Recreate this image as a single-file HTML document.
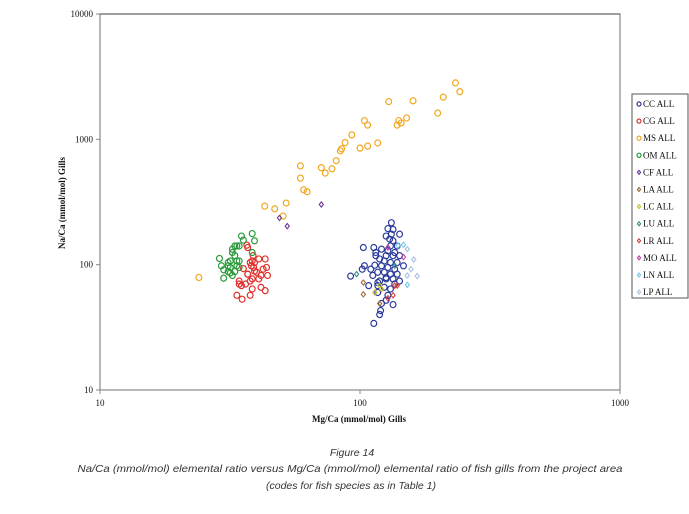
<!DOCTYPE html>
<html><head><meta charset="utf-8"><style>
body{margin:0;background:#fff;width:689px;height:514px;overflow:hidden}
svg{display:block}
.t{font-family:"Liberation Serif",serif;font-size:9px;fill:#111}
.cap{font-family:"Liberation Sans",sans-serif;font-style:italic;font-size:10.5px;fill:#333}
</style></head><body>
<svg id="chart" width="689" height="514">
<g id="g"></g>
</svg>
<script>
const xTicks=[10,100,1000];
const yTicks=[10,100,1000,10000];
const seriesNames=["CC ALL","CG ALL","MS ALL","OM ALL","CF ALL","LA ALL","LC ALL","LU ALL","LR ALL","MO ALL","LN ALL","LP ALL"];
const seriesColors=["#2a3a9a","#e0302a","#f0a820","#2a9a3a","#6a3a9a","#9a6a3a","#c8c030","#3a8a8a","#d04040","#c040a0","#70c8e8","#a8c0e0"];
const seriesShapes=["c","c","c","c","d","d","d","d","d","d","d","d"];
const ccX=[132,128,134,126,132,142,130,134,131,139,113,103,121,128,136,115,126,134,142,119,124,131,139,147,114,121,128,136,110,117,124,131,139,112,126,134,142,119,104,102,92,108,117,124,131,117,128,126,121,134,120,119,113,115,126,117,136];
const ccY=[216,194,191,169,175,175,160,155,141,141,137,137,133,129,125,125,118,118,118,111,107,104,104,98,99,98,95,92,92,87,87,84,84,82,79,77,74,74,98,92,81,68,68,66,64,60,57,52,49,48,43,40,34,118,77,72,70];
const cgX=[36.7,37,37.8,38.2,38.5,38.8,39,39.3,37,37.8,36.3,35,34.3,33.6,35.2,37.8,38.5,41.6,43.2,40.8,43.2,43.7,44.1,41.6,40.8,40,38.5,37,35.6,34.3,39.3,42.4];
const cgY=[143,137,104,98,107,118,95,89,84,74,70,68,70,57,53,57,64,66,62,111,111,95,82,82,77,87,77,84,93,74,104,92];
const msX=[24,43,47,50.6,52,59,59,60.7,62.6,71,73.5,78,81,84,85,87.6,93,100,107,117,104,107,129,141,139,144,151,160,199,209,233,242];
const msY=[79,293,279,244,310,614,490,396,382,594,538,582,675,809,840,942,1084,850,882,935,1410,1300,2000,1410,1300,1350,1480,2030,1620,2170,2820,2400];
const omX=[28.8,29.3,29.9,29.9,31.1,31.1,31.7,31.7,32.3,32.3,33,33,33.6,33.6,33.6,34.3,34.3,35,35.6,38.5,38.5,39.3,33,31.1,32.3,34.3,31.7];
const omY=[112,98,91,78,98,104,86,107,125,133,141,118,98,107,141,141,107,169,157,177,125,155,88,88,82,95,95];
const cfX=[49,52.5,71];const cfY=[236,203,302];
const laX=[103,103,119];const laY=[72,58,49];
const lcX=[114,119,121];const lcY=[60,68,64];
const luX=[97,136];const luY=[84,98];
const lrX=[136,139,128,134];const lrY=[68,68,54,57];
const moX=[147,128];const moY=[115,137];
const lnX=[147,140,152];const lnY=[144,142,69];
const lpX=[152,161,157,166,152];const lpY=[133,110,92,81,82];
const allX=[ccX,cgX,msX,omX,cfX,laX,lcX,luX,lrX,moX,lnX,lpX];
const allY=[ccY,cgY,msY,omY,cfY,laY,lcY,luY,lrY,moY,lnY,lpY];

const L=100,R=620,T=14,B=390;
const sx=v=>L+(Math.log10(v)-1)/2*(R-L);
const sy=v=>B-(Math.log10(v)-1)/3*(B-T);
const NS="http://www.w3.org/2000/svg";
const g=document.getElementById('g');
function mk(tag,at,txt){const e=document.createElementNS(NS,tag);for(const k in at)e.setAttribute(k,at[k]);if(txt!==undefined)e.textContent=txt;g.appendChild(e);return e;}
let e;
e=mk('rect',{x:L,y:T,width:R-L,height:B-T,fill:'none',stroke:'#888','stroke-width':1.2});


e=mk('line',{x1:L,y1:T,x2:R,y2:T,stroke:'#555','stroke-width':1});


xTicks.forEach(v=>{
 e=mk('line',{x1:sx(v),y1:B,x2:sx(v),y2:B+4,stroke:'#888'});
 
 
 e=mk('text',{x:sx(v),y:B+16,'text-anchor':'middle',class:'t'},String(v));
 
 
});
yTicks.forEach(v=>{
 e=mk('line',{x1:L-4,y1:sy(v),x2:L,y2:sy(v),stroke:'#888'});
 
 
 e=mk('text',{x:L-7,y:sy(v)+3,'text-anchor':'end',class:'t'},String(v));
 
 
});
e=mk('text',{x:359,y:422,'text-anchor':'middle',class:'t','font-weight':'bold','font-size':'11'},'Mg/Ca (mmol/mol) Gills');


e=mk('text',{x:0,y:0,'text-anchor':'middle',class:'t','font-weight':'bold','font-size':'11',transform:'translate(65,203) rotate(-90)'},'Na/Ca (mmol/mol) Gills');


function marker(shape,x,y,c,r){
 if(shape==='c') return mk('ellipse',{cx:x,cy:y,rx:r,ry:r*1.05,fill:'none',stroke:c,'stroke-width':1.2});
 return mk('path',{d:`M${x} ${y-r}L${x+r*0.8} ${y}L${x} ${y+r}L${x-r*0.8} ${y}Z`,fill:'none',stroke:c,'stroke-width':1.1});
}
allX.forEach((xs,i)=>{
 xs.forEach((v,j)=>{
  e=marker(seriesShapes[i],sx(v),sy(allY[i][j]),seriesColors[i],seriesShapes[i]==='c'?2.9:2.6);
  
  
 });
});
e=mk('rect',{x:632,y:94,width:56,height:204,fill:'#fff',stroke:'#555','stroke-width':1});


seriesNames.forEach((n,i)=>{
 const y=104+i*17.1;
 e=marker(seriesShapes[i]==='c'?'c':'d',639,y,seriesColors[i],2);
 
 
 e=mk('text',{x:643,y:y+3,class:'t','font-size':'8'},n);
 
 
});
e=mk('text',{x:352,y:456,'text-anchor':'middle',class:'cap','font-size':'11.5'},'Figure 14');


e=mk('text',{x:350,y:472,'text-anchor':'middle',class:'cap',textLength:'545',lengthAdjust:'spacingAndGlyphs'},'Na/Ca (mmol/mol) elemental ratio versus Mg/Ca (mmol/mol) elemental ratio of fish gills from the project area');


e=mk('text',{x:351,y:489,'text-anchor':'middle',class:'cap'},'(codes for fish species as in Table 1)');


</script>
</body></html>
